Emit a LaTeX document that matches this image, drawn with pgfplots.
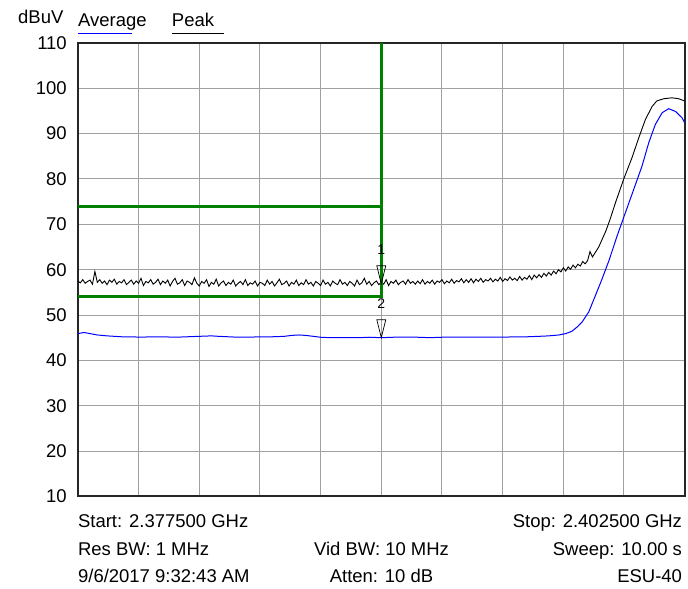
\documentclass[border=0pt]{standalone}
\usepackage{fontspec}
\setmainfont{Liberation Sans}
\usepackage{pgfplots}
\pgfplotsset{compat=1.18}

\definecolor{limitgreen}{RGB}{0,128,0}
\definecolor{gridgray}{RGB}{160,160,160}

% marker: down-pointing triangle, tip on the trace
\pgfdeclareplotmark{mtri}{%
  \pgfpathmoveto{\pgfqpoint{0pt}{0pt}}%
  \pgfpathlineto{\pgfqpoint{-4.5pt}{18pt}}%
  \pgfpathlineto{\pgfqpoint{4.5pt}{18pt}}%
  \pgfpathclose
  \pgfusepathqstroke}

\begin{document}
\begin{tikzpicture}[font=\fontsize{18.5}{22}\selectfont]
\begin{axis}[
    scale only axis,
    width=607.5pt, height=454pt,
    xmin=0, xmax=250, ymin=10, ymax=110,
    xtick={0,25,...,250}, xticklabels={},
    ytick={10,20,...,110},
    major tick length=0pt,
    grid=major,
    grid style={gridgray, line width=1pt},
    axis line style={black!85, line width=2pt},
    /pgf/number format/assume math mode=true,
    yticklabel style={font=\fontsize{18.5}{22}\selectfont, anchor=east, inner sep=0pt, xshift=-11pt},
]

% average trace (blue)
\addplot[blue, line width=1pt, no marks] coordinates {
(0,45.9) (1,46.0) (2,46.1) (3,46.1) (4,46.0) (5,45.9) (6,45.8) (8,45.6) (10,45.5)
(12,45.4) (15,45.3) (18,45.2) (22,45.2) (26,45.1) (30,45.2) (35,45.2) (40,45.1)
(45,45.2) (50,45.3) (55,45.4) (58,45.3) (62,45.2) (66,45.1) (70,45.1) (75,45.2)
(80,45.2) (85,45.3) (88,45.5) (91,45.6) (94,45.5) (97,45.3) (100,45.1) (104,45.0)
(108,45.0) (112,45.0) (116,45.0) (120,45.1) (125,45.0) (130,45.1) (135,45.1)
(140,45.1) (145,45.0) (150,45.1) (155,45.1) (160,45.1) (165,45.1) (170,45.1)
(175,45.1) (180,45.2) (185,45.2) (190,45.3) (194,45.4) (198.2,45.6) (201,45.9)
(203.5,46.4) (206,47.5) (207.8,48.5) (210.5,50.7) (213.3,54.4) (216,58.0)
(218.8,62.0) (222.2,67.5) (225.6,72.6) (229,77.7) (232.4,82.8) (235.2,88.0)
(237.9,92.0) (240.7,94.6) (243.4,95.5) (246.2,94.9) (248.9,93.5) (250,92.4)
};

% peak trace (black)
\addplot[black, line width=0.9pt, no marks] coordinates {
(0,57.5) (1,57.1) (2,57.8) (3,57.0) (4,57.4) (5,57.7) (6,56.8) (7,59.6) (8,57.2) (9,57.8)
(10,57.0) (11,57.5) (12,56.7) (13,57.7) (14,57.2) (15,57.9) (16,56.8) (17,57.4) (18,57.1) (19,57.8)
(20,56.7) (21,57.2) (22,57.7) (23,56.8) (24,57.5) (25,57.0) (26,58.1) (27,56.5) (28,57.4) (29,57.1)
(30,57.8) (31,56.8) (32,57.2) (33,57.9) (34,56.7) (35,57.5) (36,57.0) (37,57.7) (38,56.4) (39,57.4)
(40,58.1) (41,56.8) (42,57.1) (43,57.8) (44,56.5) (45,57.5) (46,57.2) (47,56.7) (48,58.2) (49,57.0)
(50,56.4) (51,57.4) (52,57.0) (53,57.8) (54,56.3) (55,57.2) (56,56.8) (57,57.9) (58,56.4) (59,57.1)
(60,57.5) (61,56.5) (62,57.2) (63,56.8) (64,57.7) (65,56.4) (66,57.0) (67,57.4) (68,56.7) (69,57.8)
(70,56.5) (71,57.1) (72,56.8) (73,57.5) (74,56.4) (75,57.2) (76,57.0) (77,56.5) (78,57.7) (79,56.8)
(80,57.4) (81,56.4) (82,57.1) (83,57.9) (84,56.7) (85,57.0) (86,57.5) (87,56.4) (88,57.2) (89,56.8)
(90,57.7) (91,56.5) (92,57.1) (93,56.7) (94,57.8) (95,56.8) (96,57.2) (97,56.4) (98,57.4) (99,57.0)
(100,56.5) (101,57.7) (102,56.8) (103,57.2) (104,56.4) (105,57.5) (106,57.0) (107,56.7) (108,57.8) (109,56.8)
(110,57.2) (111,56.5) (112,57.4) (113,57.0) (114,56.4) (115,57.7) (116,56.7) (117,57.1) (118,58.1) (119,56.8)
(120,57.4) (121,56.5) (122,57.1) (123,57.5) (124,56.7) (125,57.2) (126,56.8) (127,57.8) (128,56.5) (129,57.4)
(130,57.0) (131,57.7) (132,56.7) (133,57.2) (134,57.5) (135,56.8) (136,57.8) (137,57.0) (138,57.4) (139,56.8)
(140,57.5) (141,56.9) (142,57.8) (143,56.8) (144,57.4) (145,57.0) (146,57.7) (147,56.8) (148,57.5) (149,57.2)
(150,57.8) (151,56.9) (152,57.5) (153,57.1) (154,57.9) (155,57.0) (156,57.6) (157,57.3) (158,58.0) (159,57.1)
(160,57.8) (161,57.2) (162,58.0) (163,57.1) (164,57.9) (165,57.4) (166,58.1) (167,57.2) (168,57.8) (169,57.5)
(170,58.1) (171,57.3) (172,57.9) (173,57.5) (174,58.3) (175,57.4) (176,58.0) (177,57.6) (178,58.4) (179,57.7)
(180,58.1) (181,57.6) (182,58.5) (183,57.7) (184,58.3) (185,57.9) (186,58.7) (187,57.8) (188,58.8) (189,58.2)
(190,58.9) (191,58.3) (192,59.2) (193,58.6) (194,59.4) (195,58.8) (196,59.7) (197,59.1) (198,60.0) (199,59.5)
(200,60.4) (201,59.7) (202,60.6) (203,60.1) (204,61.0) (205,60.4) (206,61.2) (207,60.8) (208,61.8) (209,61.3)
(210,62.0) (211,64.0) (212,62.8) (214.6,65.0) (217.5,68.5) (219.2,71.0) (221.5,74.8)
(224.9,80.0) (228.3,84.7) (231.1,89.1) (233.8,93.1) (236.6,96.0) (238.5,97.2)
(241.4,97.7) (244.7,97.9) (247.5,97.7) (250,97.2)
};

% limit lines (green)
\addplot[limitgreen, line width=3pt, no marks] coordinates {(0,74) (125,74)};
\addplot[limitgreen, line width=3pt, no marks] coordinates {(0,54) (125,54) (125,110)};

% markers 1 and 2
\addplot[black, line width=0.7pt, only marks, mark=mtri,
    point meta=explicit symbolic, nodes near coords,
    every node near coord/.style={anchor=center, yshift=34pt, inner sep=0pt,
      font=\fontsize{14}{16}\selectfont, black}]
  coordinates {(125,56.9) [1] (125,45.0) [2]};
\end{axis}

\coordinate (O) at (current axis.south west);
% frame of the page
\path ([shift={(-78pt,-92pt)}]O) rectangle ([shift={(2.5pt,43pt)}]current axis.north east);

% header
\node[anchor=base west, inner sep=0pt] at ([shift={(-60pt,473pt)}]O) {dBuV};
\node[anchor=base west, inner sep=0pt] at ([shift={(0pt,470.3pt)}]O) {Average};
\node[anchor=base west, inner sep=0pt] at ([shift={(94pt,470.3pt)}]O) {Peak};
\draw[blue, line width=1pt] ([shift={(0pt,463.7pt)}]O) -- ++(54pt,0pt);
\draw[black, line width=1pt] ([shift={(94pt,463.7pt)}]O) -- ++(52pt,0pt);

% footer
\node[anchor=base west, inner sep=0pt] at ([shift={(0pt,-31pt)}]O) {Start: 2.377500 GHz};
\node[anchor=base west, inner sep=0pt] at ([shift={(0pt,-59pt)}]O) {Res BW: 1 MHz};
\node[anchor=base west, inner sep=0pt] at ([shift={(0pt,-86pt)}]O) {9/6/2017 9:32:43 AM};
\node[anchor=base, inner sep=0pt] at ([shift={(304pt,-59pt)}]O) {Vid BW: 10 MHz};
\node[anchor=base, inner sep=0pt] at ([shift={(304pt,-86pt)}]O) {Atten: 10 dB};
\node[anchor=base east, inner sep=0pt] at ([shift={(605pt,-31pt)}]O) {Stop: 2.402500 GHz};
\node[anchor=base east, inner sep=0pt] at ([shift={(605pt,-59pt)}]O) {Sweep: 10.00 s};
\node[anchor=base east, inner sep=0pt] at ([shift={(605pt,-86pt)}]O) {ESU-40};
\end{tikzpicture}
\end{document}
